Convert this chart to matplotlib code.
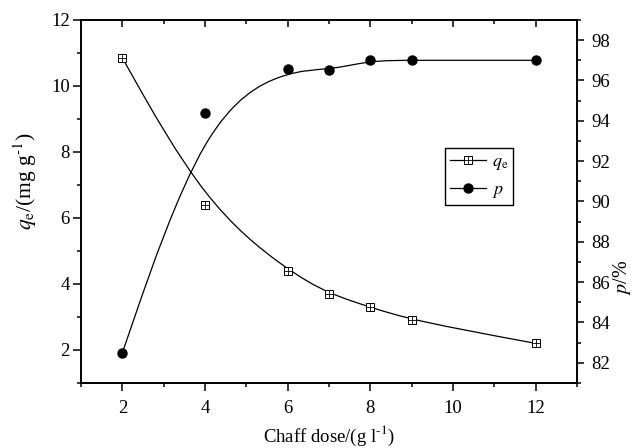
import numpy as np
import matplotlib
matplotlib.use("Agg")
import matplotlib.pyplot as plt
from matplotlib.path import Path
from matplotlib.patches import PathPatch
from matplotlib.lines import Line2D
from matplotlib.legend_handler import HandlerTuple
from matplotlib.ticker import MultipleLocator

plt.rcParams['font.family'] = ['Liberation Serif', 'DejaVu Serif']
plt.rcParams['mathtext.fontset'] = 'stix'

# data
dose = [2, 4, 6, 7, 8, 9, 12]
qe = [10.85, 6.4, 4.4, 3.7, 3.3, 2.9, 2.2]
p = [82.5, 94.4, 96.55, 96.5, 97.0, 97.0, 97.0]

fig = plt.figure(figsize=(6.39, 4.48), dpi=100)
ax = fig.add_axes([0.1268, 0.1451, 0.7762, 0.8103])
ax2 = ax.twinx()


def bspline_path(xs, ys):
    pts = np.column_stack([xs, ys]).astype(float)
    Q = np.vstack([pts[0], pts[0], pts, pts[-1], pts[-1]])
    verts = []
    codes = []
    for i in range(len(Q) - 3):
        A, B, C, D = Q[i], Q[i + 1], Q[i + 2], Q[i + 3]
        S = (A + 4 * B + C) / 6
        c1 = (2 * B + C) / 3
        c2 = (B + 2 * C) / 3
        E = (B + 4 * C + D) / 6
        if i == 0:
            verts.append(S)
            codes.append(Path.MOVETO)
        verts += [c1, c2, E]
        codes += [Path.CURVE4] * 3
    return Path(verts, codes)


lw = 0.9
ax.add_patch(PathPatch(bspline_path(dose, qe), fill=False, lw=lw, color='black', zorder=2))
ax2.add_patch(PathPatch(bspline_path(dose, p), fill=False, lw=lw, color='black', zorder=2))

ms_sq = 5.2
ax.plot(dose, qe, ls='none', marker='s', ms=ms_sq, mfc='white', mec='black', mew=0.7, zorder=3)
ax.plot(dose, qe, ls='none', marker='+', ms=ms_sq, mec='black', mew=0.6, zorder=4)
ax2.plot(dose, p, ls='none', marker='o', ms=6.5, mfc='black', mec='black', zorder=3)

ax.set_xlim(1, 13)
ax.set_ylim(1, 12)
ax2.set_ylim(81, 99)

ax.xaxis.set_major_locator(MultipleLocator(2))
ax.xaxis.set_minor_locator(MultipleLocator(1))
ax.yaxis.set_major_locator(MultipleLocator(2))
ax.yaxis.set_minor_locator(MultipleLocator(1))
ax2.yaxis.set_major_locator(MultipleLocator(2))
ax2.yaxis.set_minor_locator(MultipleLocator(1))

for a in (ax, ax2):
    for s in a.spines.values():
        s.set_linewidth(1.2)

fs_tick = 13.5
ax.tick_params(axis='x', which='both', direction='out', top=False, labelsize=fs_tick, pad=7, width=1.1)
ax.tick_params(axis='x', which='major', length=5.5)
ax.tick_params(axis='x', which='minor', length=3)
ax.tick_params(axis='y', which='both', direction='out', right=False, labelsize=fs_tick, pad=2, width=1.1)
ax.tick_params(axis='y', which='major', length=6)
ax.tick_params(axis='y', which='minor', length=3)
ax2.tick_params(axis='y', which='both', direction='out', left=False, labelsize=fs_tick, pad=5, width=1.1)
ax2.tick_params(axis='y', which='major', length=5)
ax2.tick_params(axis='y', which='minor', length=3)

# top ticks inward
secx = ax.secondary_xaxis('top')
secx.xaxis.set_major_locator(MultipleLocator(2))
secx.xaxis.set_minor_locator(MultipleLocator(1))
secx.tick_params(axis='x', which='both', direction='in', labeltop=False, width=1.1)
secx.tick_params(axis='x', which='major', length=5)
secx.tick_params(axis='x', which='minor', length=3)
secx.spines['top'].set_linewidth(1.2)

ax.set_xlabel('Chaff dose/(g l$^{\\text{-}1}$)', fontsize=13.5, labelpad=5)
ax.set_ylabel('$q_{\\rm e}$/(mg g$^{\\text{-}1}$)', fontsize=15.5)
ax.yaxis.set_label_coords(-0.085, 0.556)
ax2.set_ylabel('$p$/%', fontsize=14.5, rotation=90)
ax2.yaxis.set_label_coords(1.068, 0.29)

h1a = Line2D([], [], color='black', lw=lw, marker='s', ms=ms_sq, mfc='white', mec='black', mew=0.7)
h1b = Line2D([], [], ls='none', marker='+', ms=ms_sq, mec='black', mew=0.6)
h2 = Line2D([], [], color='black', lw=lw, marker='o', ms=6.5, mfc='black')
leg = ax.legend([(h1a, h1b), h2], ['$q_{\\rm e}$', '$p$'],
                handler_map={tuple: HandlerTuple(ndivide=1)},
                loc='upper left', bbox_to_anchor=(0.734, 0.647),
                fontsize=13, handlelength=2.0, handletextpad=0.3,
                labelspacing=0.5, borderpad=0.28, borderaxespad=0,
                frameon=True, fancybox=False, edgecolor='black', framealpha=1)
leg.get_frame().set_linewidth(1.0)

fig.savefig('out.png', dpi=100)
